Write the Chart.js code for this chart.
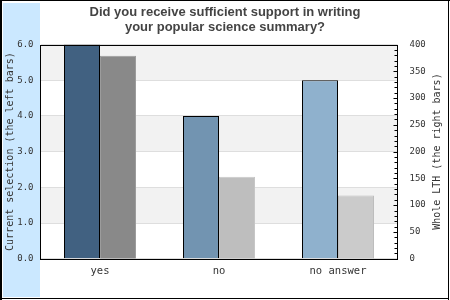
<!DOCTYPE html>
<html>
<head>
<meta charset="utf-8">
<script src="https://cdn.jsdelivr.net/npm/chart.js@4/dist/chart.umd.min.js"></script>
<style>
html,body{margin:0;padding:0;background:#fff;}
#wrap{width:450px;height:300px;position:relative;}
</style>
</head>
<body>
<div id="wrap"><canvas id="c" width="450" height="300"></canvas></div>
<script>
const categories = ['yes', 'no', 'no answer'];
const currentSelection = [6, 4, 5];
const wholeLTH = [379, 153, 118];
const leftTicks = [0, 1, 2, 3, 4, 5, 6];
const rightTicks = [0, 50, 100, 150, 200, 250, 300, 350, 400];
const titleLines = ['Did you receive sufficient support in writing', 'your popular science summary?'];
const leftTitle = 'Current selection (the left bars)';
const rightTitle = 'Whole LTH (the right bars)';

const mono = 'DejaVu Sans Mono';

const decor = {
  id: 'decor',
  beforeDraw(chart) {
    const ctx = chart.ctx, a = chart.chartArea, y = chart.scales.y;
    ctx.save();
    ctx.fillStyle = '#fff';
    ctx.fillRect(0, 0, 450, 300);
    ctx.fillStyle = '#cbe8ff';
    ctx.fillRect(3, 3, 37, 294);
    ctx.fillStyle = '#f2f2f2';
    for (let i = leftTicks.length - 1; i > 0; i -= 2) {
      const t = y.getPixelForValue(leftTicks[i]);
      const b = y.getPixelForValue(leftTicks[i - 1]);
      ctx.fillRect(a.left, t, a.right - a.left, b - t);
    }
    ctx.restore();
  },
  afterDraw(chart) {
    const ctx = chart.ctx, a = chart.chartArea, y1 = chart.scales.y1;
    ctx.save();
    ctx.strokeStyle = '#000';
    ctx.lineWidth = 1;
    const rx = Math.round(a.right) - 0.5;
    for (let v = 0; v <= 400; v += 10) {
      const py = Math.round(y1.getPixelForValue(v)) + 0.5;
      const len = (v % 50 === 0) ? 4 : 3;
      ctx.beginPath();
      ctx.moveTo(rx - len, py);
      ctx.lineTo(rx, py);
      ctx.stroke();
    }
    const lx = Math.floor(a.left) + 0.5;
    ctx.strokeRect(lx, Math.round(a.top) + 0.5, rx - lx, Math.round(a.bottom - a.top));
    ctx.fillStyle = '#333';
    ctx.font = '10px "' + mono + '"';
    ctx.textAlign = 'center';
    ctx.textBaseline = 'middle';
    ctx.translate(437, (a.top + a.bottom) / 2);
    ctx.rotate(-Math.PI / 2);
    ctx.fillText(rightTitle, 0, 0);
    ctx.restore();
    ctx.save();
    ctx.fillStyle = '#000';
    ctx.fillRect(0, 0, 2, 300);
    ctx.fillRect(0, 0, 450, 1);
    ctx.fillRect(448, 0, 1, 300);
    ctx.fillRect(0, 298, 449, 1);
    ctx.restore();
  }
};

new Chart(document.getElementById('c'), {
  type: 'bar',
  data: {
    labels: categories,
    datasets: [
      {
        label: 'Current selection',
        data: currentSelection,
        yAxisID: 'y',
        backgroundColor: ['#416181', '#7294b1', '#8fb1cd'],
        borderColor: '#000',
        borderWidth: 1,
        categoryPercentage: 72 / 119,
        barPercentage: 1
      },
      {
        label: 'Whole LTH',
        data: wholeLTH,
        yAxisID: 'y1',
        backgroundColor: ['#898989', '#bebebe', '#cbcbcb'],
        borderColor: ['#9c9c9c', '#c6c6c6', '#bdbdbd'],
        borderWidth: 1,
        categoryPercentage: 72 / 119,
        barPercentage: 1
      }
    ]
  },
  options: {
    responsive: false,
    animation: false,
    devicePixelRatio: 1,
    layout: { padding: 0 },
    plugins: {
      legend: { display: false },
      tooltip: { enabled: false },
      title: {
        display: true,
        text: titleLines,
        color: '#444',
        font: { family: 'Liberation Sans', size: 13, weight: 'bold', lineHeight: 1.154 },
        padding: { top: 5, bottom: 9.5 }
      }
    },
    scales: {
      x: {
        grid: { display: false, drawTicks: false },
        border: { display: false },
        ticks: { color: '#333', font: { family: mono, size: 10.5 }, padding: 6, maxRotation: 0 },
        afterFit(s) { s.height = 41.3; }
      },
      y: {
        position: 'left',
        min: 0, max: 6,
        afterBuildTicks(s) { s.ticks = leftTicks.map(v => ({ value: v })); },
        grid: { color: '#dedede', drawTicks: false },
        border: { display: false },
        ticks: { color: '#333', font: { family: mono, size: 9 }, padding: 7,
          callback: v => Number(v).toFixed(1) },
        title: { display: true, text: leftTitle, color: '#333',
          font: { family: mono, size: 10, lineHeight: 1.2 }, padding: { top: 4, bottom: 0 } },
        afterFit(s) { s.width = 40.5; }
      },
      y1: {
        position: 'right',
        min: 0, max: 400,
        afterBuildTicks(s) { s.ticks = rightTicks.map(v => ({ value: v })); },
        grid: { display: false, drawTicks: false },
        border: { display: false },
        ticks: { color: '#333', font: { family: mono, size: 9 }, padding: 12 },
        afterFit(s) { s.width = 52.5; }
      }
    }
  },
  plugins: [decor]
});
</script>
</body>
</html>
